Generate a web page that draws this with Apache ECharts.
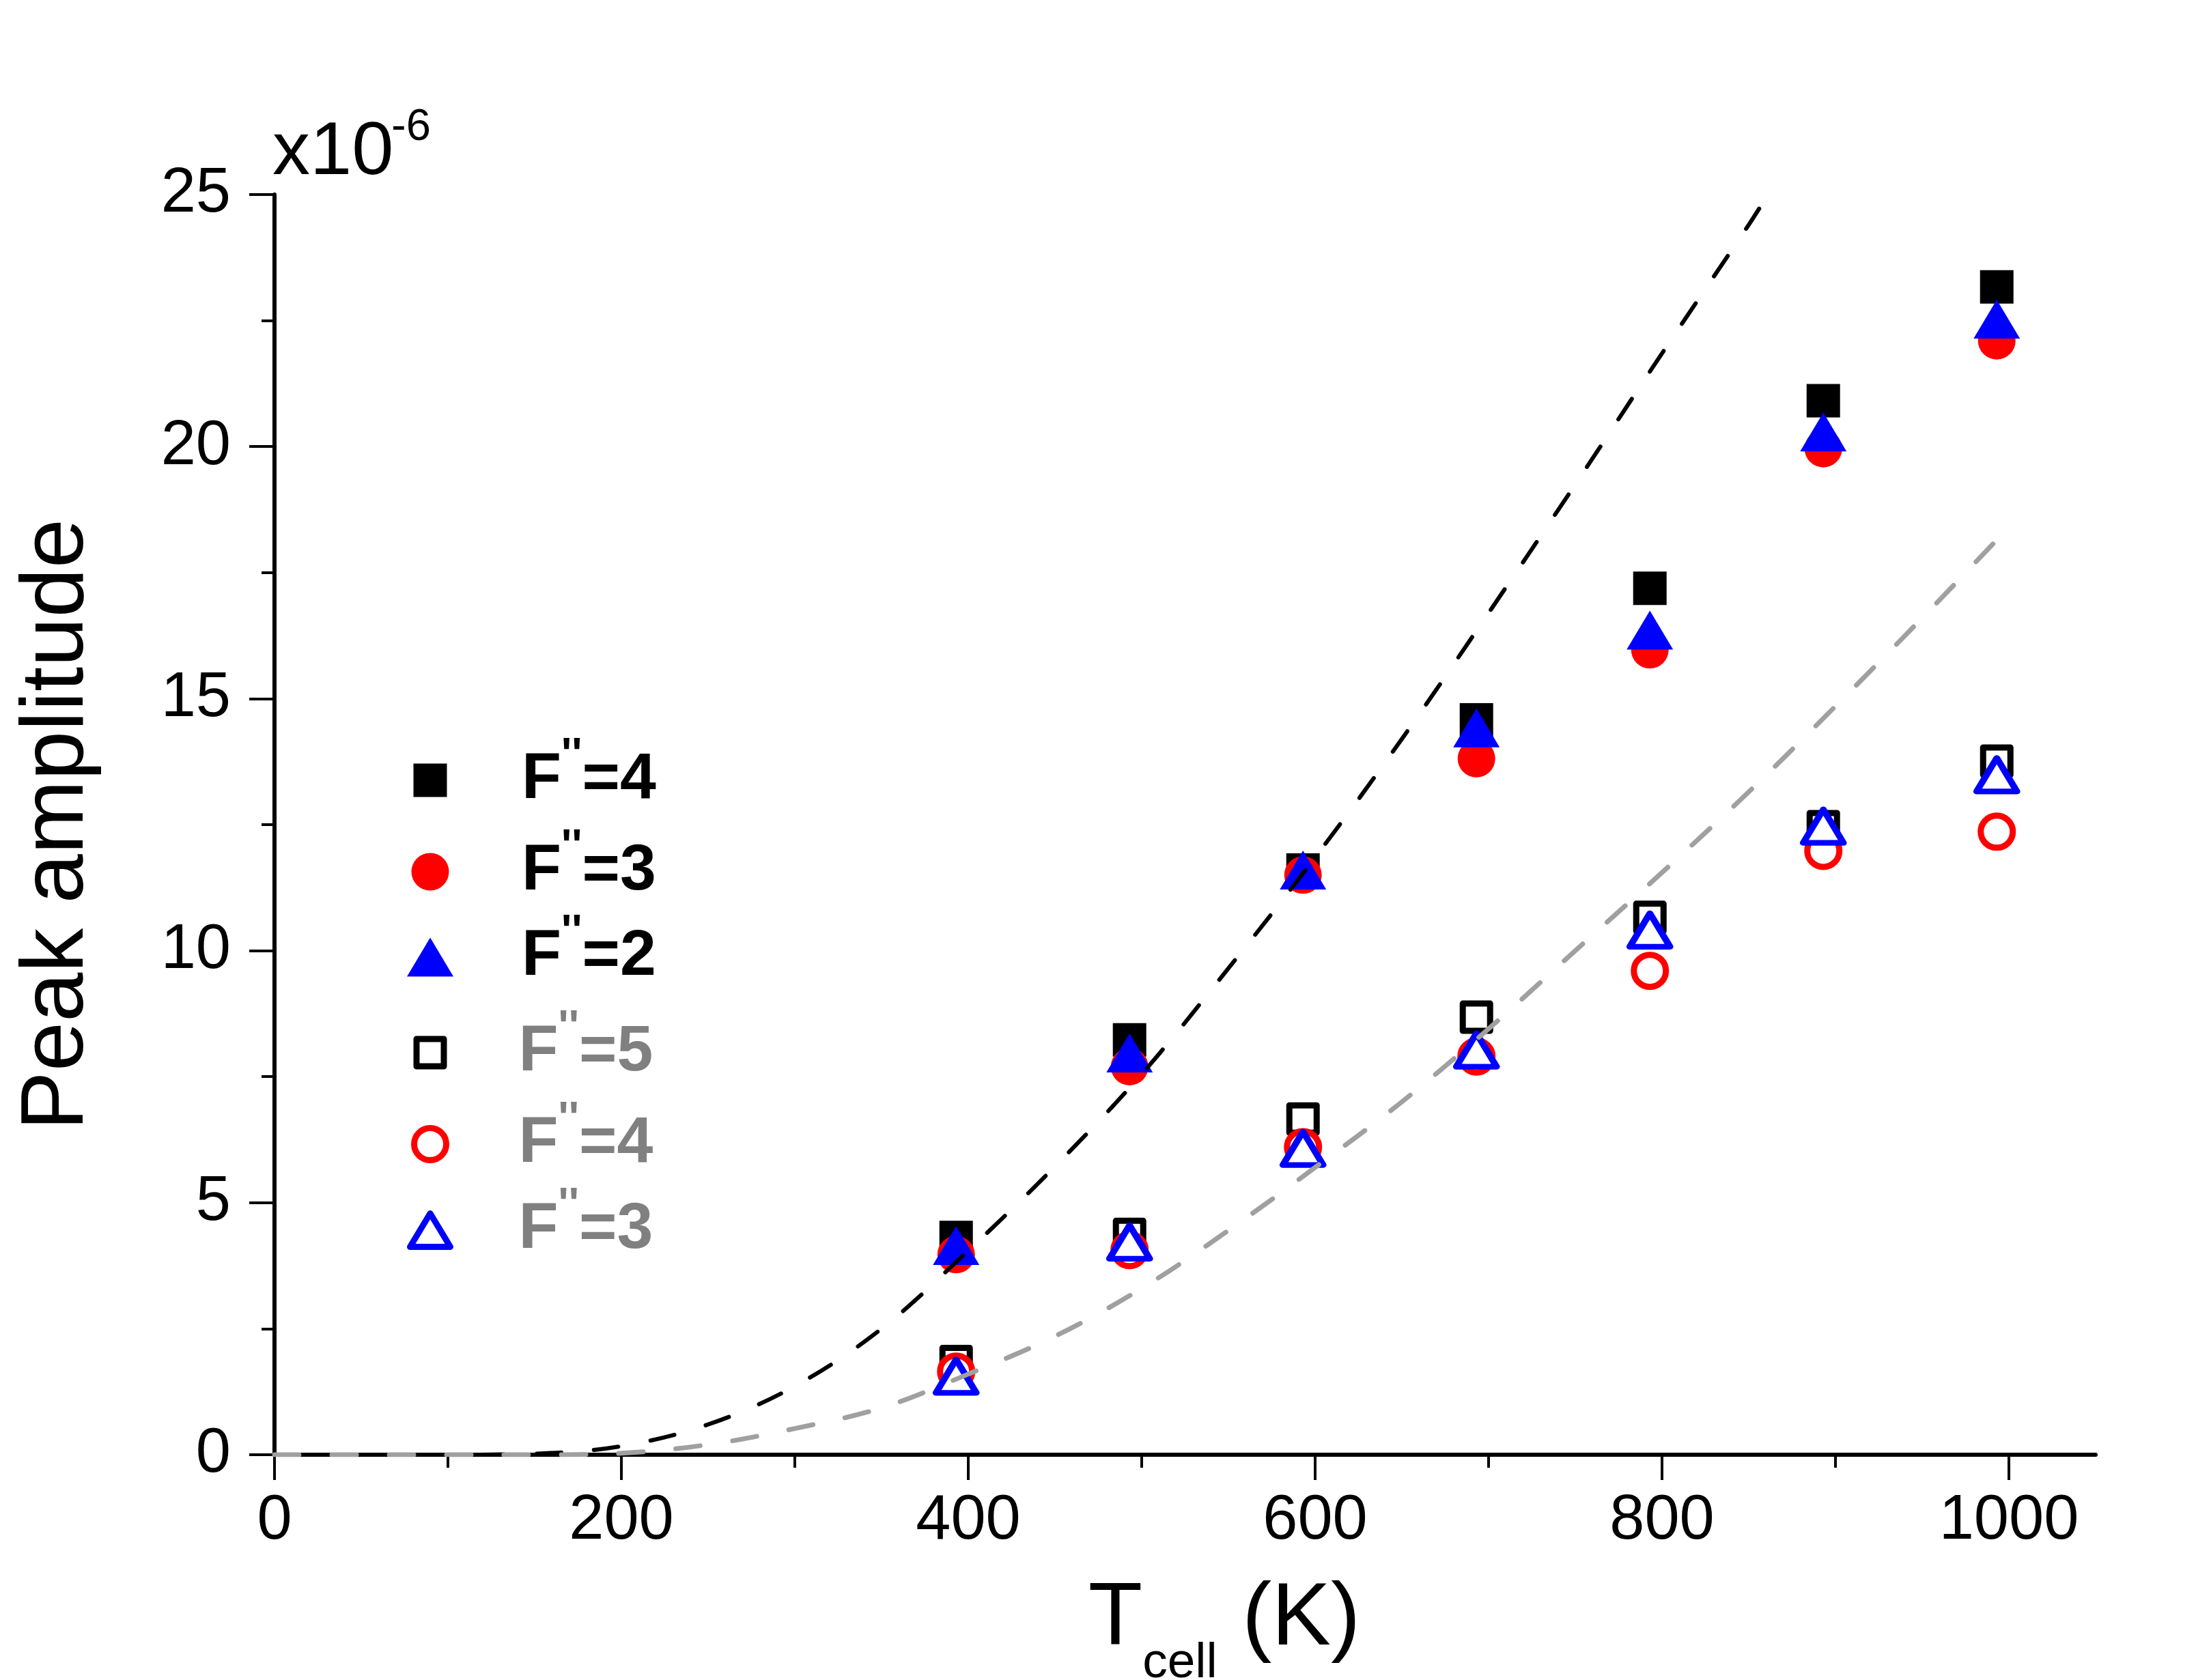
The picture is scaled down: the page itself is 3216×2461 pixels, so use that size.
<!DOCTYPE html>
<html><head><meta charset="utf-8">
<script src="https://cdn.jsdelivr.net/npm/echarts@6/dist/echarts.min.js"></script>
<style>html,body{margin:0;padding:0;background:#fff}#c{width:3216px;height:2461px}</style>
</head><body><div id="c"></div>
<script>
// ---- data (amplitude in units of 1e-6) ----
const temps = [393, 493, 593, 693, 793, 893, 993];
const f4Filled = [4.31, 8.23, 11.6, 14.58, 17.19, 20.91, 23.17];
const f3Filled = [3.97, 7.7, 11.5, 13.81, 15.97, 19.96, 22.1];
const f2Filled = [4.15, 7.97, 11.6, 14.42, 16.36, 20.29, 22.53];
const f5Open = [1.85, 4.37, 6.66, 8.68, 10.66, 12.46, 13.76];
const f4Open = [1.65, 4.06, 6.1, 7.9, 9.6, 11.98, 12.36];
const f3Open = [1.56, 4.22, 6.08, 8.03, 10.41, 12.47, 13.49];
const fitBlackX = [0, 50, 100, 150, 200, 250, 300, 350, 400, 450, 500, 550, 600, 650, 700, 750, 800, 850, 856];
const fitBlackY = [0, 0, 0, 0.02, 0.17, 0.6, 1.36, 2.5, 4.05, 5.72, 7.55, 9.65, 11.85, 14.2, 16.7, 19.25, 21.85, 24.4, 24.72];
const fitGrayX = [0, 50, 100, 150, 200, 250, 300, 350, 400, 450, 500, 550, 600, 650, 700, 750, 800, 850, 900, 950, 1000, 1003];
const fitGrayY = [0, 0, 0, 0, 0.03, 0.2, 0.52, 0.93, 1.6, 2.35, 3.3, 4.45, 5.7, 7.0, 8.45, 10.0, 11.55, 13.15, 14.85, 16.6, 18.4, 18.5];
const xMajorTicks = [0, 200, 400, 600, 800, 1000];
const xMinorTicks = [100, 300, 500, 700, 900];
const legendLabels = ["F''=4", "F''=3", "F''=2", "F''=5", "F''=4", "F''=3"];
const seriesIds = ['s1', 's2', 's3', 's4', 's5', 's6'];

const FONT = 'Liberation Sans';
const pairs = (xs, ys) => xs.map((x, i) => [x, ys[i]]);

const markerDefs = [
  {data: f4Filled, symbol: 'rect', size: [49, 49], color: '#000000', fill: '#000000', bw: 0, cy: 1143, text: '#000000'},
  {data: f3Filled, symbol: 'circle', size: [55, 55], color: '#ff0000', fill: '#ff0000', bw: 0, cy: 1277, text: '#000000'},
  {data: f2Filled, symbol: 'triangle', size: [68, 57], color: '#0000ff', fill: '#0000ff', bw: 0, cy: 1402, text: '#000000'},
  {data: f5Open, symbol: 'rect', size: [40, 40], color: '#000000', fill: '#ffffff', bw: 9, cy: 1542, text: '#808080'},
  {data: f4Open, symbol: 'circle', size: [47, 47], color: '#ff0000', fill: '#ffffff', bw: 9, cy: 1676, text: '#808080'},
  {data: f3Open, symbol: 'triangle', size: [59, 49], color: '#0000ff', fill: '#ffffff', bw: 9, cy: 1802, text: '#808080'}
];

const series = markerDefs.map((d, i) => ({
  name: seriesIds[i],
  type: 'scatter',
  data: pairs(temps, d.data),
  symbol: d.symbol,
  symbolSize: d.size,
  itemStyle: {color: d.fill, borderColor: d.color, borderWidth: d.bw, borderJoin: 'round', opacity: 1},
  emphasis: {disabled: true}
}));
series.push({
  type: 'line', data: pairs(fitBlackX, fitBlackY), showSymbol: false, smooth: 0.35,
  lineStyle: {color: '#000000', width: 6, type: [36, 48], dashOffset: 36, cap: 'round'}, silent: true, z: 5
});
series.push({
  type: 'line', data: pairs(fitGrayX, fitGrayY), showSymbol: false, smooth: 0.35,
  lineStyle: {color: '#a0a0a0', width: 7, type: [36, 48], cap: 'round'}, silent: true, z: 5
});

const legends = markerDefs.map((d, i) => ({
  data: [{
    name: seriesIds[i], icon: d.symbol,
    itemStyle: {color: d.fill, borderColor: d.color, borderWidth: d.bw, borderJoin: 'round'}
  }],
  orient: 'vertical',
  left: 630 - d.size[0] / 2 - d.bw / 2,
  top: d.cy - 66.5,
  padding: 0,
  itemWidth: d.size[0],
  itemHeight: d.size[1],
  selectedMode: false,
  formatter: () => '{f|F}{s|\'\'}{e|' + legendLabels[i].slice(3) + '}',
  textStyle: {
    fontFamily: FONT, color: d.text,
    rich: {
      f: {fontFamily: FONT, fontSize: 95, fontWeight: 'bold', color: d.text, lineHeight: 95, verticalAlign: 'bottom', padding: [0, 0, 0, 129 - d.size[0] / 2 - d.bw / 2]},
      s: {fontFamily: FONT, fontSize: 64, fontWeight: 'bold', color: d.text, lineHeight: 64, verticalAlign: 'bottom', padding: [0, 0, 50, 0]},
      e: {fontFamily: FONT, fontSize: 95, fontWeight: 'bold', color: d.text, lineHeight: 95, verticalAlign: 'bottom'}
    }
  }
}));

const chart = echarts.init(document.getElementById('c'), null, {renderer: 'canvas'});
chart.setOption({
  animation: false,
  backgroundColor: '#ffffff',
  grid: {left: 402, top: 285, width: 2667, height: 1846, containLabel: false, outerBoundsMode: 'none'},
  xAxis: [{
    type: 'value', min: 0, max: 1050, interval: 200, position: 'bottom',
    name: '{t|T}{c|cell}{t| (K)}', nameLocation: 'middle', nameGap: 212,
    nameTextStyle: {
      fontFamily: FONT, color: '#000', padding: [0, 0, 0, 115],
      rich: {
        t: {fontFamily: FONT, fontSize: 130, lineHeight: 130, color: '#000', verticalAlign: 'bottom', padding: [0, 0, 35, 0]},
        c: {fontFamily: FONT, fontSize: 73, lineHeight: 73, color: '#000', verticalAlign: 'bottom'}
      }
    },
    axisLine: {show: true, onZero: false, lineStyle: {color: '#000', width: 6}},
    axisTick: {show: true, length: 37, customValues: xMajorTicks, lineStyle: {color: '#000', width: 4}},
    axisLabel: {customValues: xMajorTicks, formatter: v => String(v), fontFamily: FONT, fontSize: 92, color: '#000', margin: 52},
    splitLine: {show: false}
  }, {
    type: 'value', min: 0, max: 1050, position: 'bottom', gridIndex: 0,
    axisLine: {show: false},
    axisTick: {show: true, length: 19, customValues: xMinorTicks, lineStyle: {color: '#000', width: 4}},
    axisLabel: {show: false},
    splitLine: {show: false}
  }],
  yAxis: {
    type: 'value', min: 0, max: 25, interval: 5,
    name: 'Peak amplitude', nameLocation: 'middle', nameGap: 252, nameRotate: 90,
    nameTextStyle: {fontFamily: FONT, fontSize: 130, lineHeight: 130, color: '#000'},
    axisLine: {show: true, onZero: false, lineStyle: {color: '#000', width: 6}},
    axisTick: {show: true, length: 37, lineStyle: {color: '#000', width: 4}},
    minorTick: {show: true, splitNumber: 2, length: 19, lineStyle: {color: '#000', width: 4}},
    axisLabel: {fontFamily: FONT, fontSize: 92, color: '#000', margin: 64},
    splitLine: {show: false}
  },
  legend: legends,
  graphic: [
    {type: 'text', left: 399, top: 170, style: {text: 'x10', fontFamily: FONT, fontSize: 110, fill: '#000'}},
    {type: 'text', left: 573, top: 155, style: {text: '-6', fontFamily: FONT, fontSize: 65, fill: '#000'}}
  ],
  series: series
});
</script>
</body></html>
